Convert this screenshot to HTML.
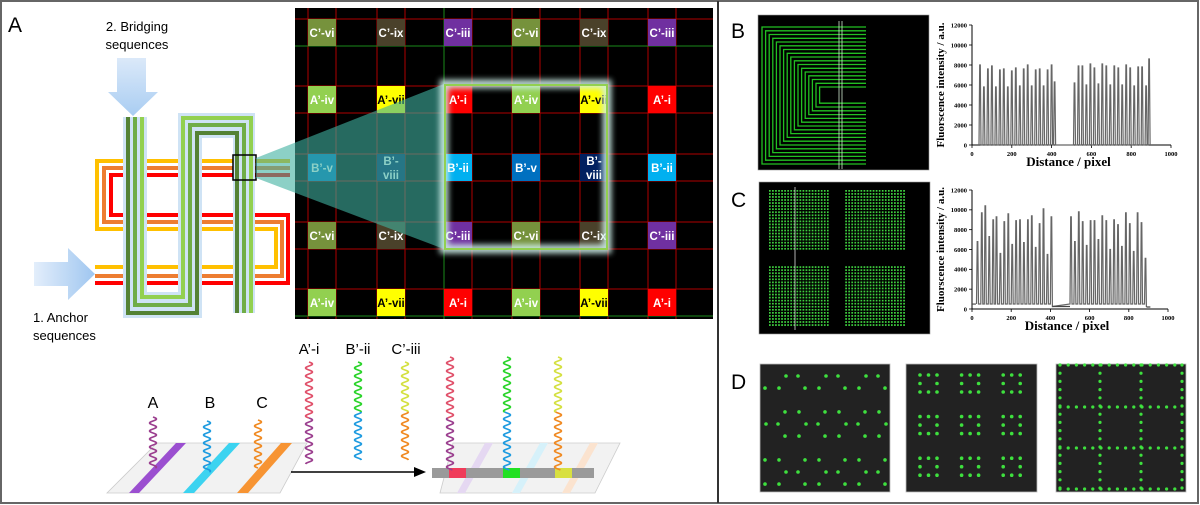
<!DOCTYPE html>
<html><head><meta charset="utf-8">
<style>
html,body{margin:0;padding:0;background:#fff;}
svg{display:block;}
.sans{font-family:"Liberation Sans",sans-serif;}
.serif{font-family:"Liberation Serif",serif;font-weight:bold;}
.cell{font-family:"Liberation Sans",sans-serif;font-weight:bold;font-size:11.5px;fill:#fff;}
</style></head>
<body>
<svg id="fig" width="1200" height="505" viewBox="0 0 1200 505" xmlns="http://www.w3.org/2000/svg">
<defs>
  <linearGradient id="arrowDown" x1="0" y1="0" x2="0" y2="1"><stop offset="0" stop-color="#dbe9f9"/><stop offset="1" stop-color="#a9cdf2"/></linearGradient>
  <linearGradient id="arrowRight" x1="0" y1="0" x2="1" y2="0"><stop offset="0" stop-color="#e3eefb"/><stop offset="1" stop-color="#9fc6f0"/></linearGradient>
  <filter id="blur4"><feGaussianBlur stdDeviation="3"/></filter>
  <pattern id="dotgrid" x="769" y="190" width="3.05" height="3.05" patternUnits="userSpaceOnUse"><rect x="0" y="0" width="1.7" height="1.7" fill="#3fd23f"/></pattern>
</defs>

<rect x="1" y="1" width="1197" height="502" fill="none" stroke="#666" stroke-width="2"/>
<line x1="718" y1="1" x2="718" y2="503" stroke="#333" stroke-width="2"/>

<g id="panelA">
  <text x="8" y="32" class="sans" font-size="21">A</text>
  <text x="137" y="31" class="sans" font-size="13" text-anchor="middle">2. Bridging</text>
  <text x="137" y="49" class="sans" font-size="13" text-anchor="middle">sequences</text>
  <polygon points="117,58 146,58 146,92 158,92 133,116 108,92 117,92" fill="url(#arrowDown)"/>
  <polygon points="34,262 68,262 68,248 95,274 68,300 68,286 34,286" fill="url(#arrowRight)"/>
  <text x="33" y="322" class="sans" font-size="13">1. Anchor</text>
  <text x="33" y="340" class="sans" font-size="13">sequences</text>

  <g fill="none" stroke-width="4">
    <path d="M290,161 H97 V229 H276 V267 H95" stroke="#ffc000"/>
    <path d="M290,168 H104 V222 H282 V276 H95" stroke="#ed7d31"/>
    <path d="M290,175 H111 V215 H288 V283 H95" stroke="#ff0000"/>
  </g>
  <g fill="none" stroke-width="4">
    <path d="M128,117 V313 H197 V133 H238 V313" stroke="#cfe3f5" stroke-width="10"/>
    <path d="M133,117 V305 H190 V125 H244 V313" stroke="#cfe3f5" stroke-width="10"/>
    <path d="M142,117 V297 H183 V118 H250 V313" stroke="#cfe3f5" stroke-width="10"/>
    <path d="M128,117 V313 H197 V133 H237 V313" stroke="#548235"/>
    <path d="M135,117 V305 H190 V125 H244 V313" stroke="#70ad47"/>
    <path d="M142,117 V297 H183 V118 H251 V313" stroke="#92d050"/>
  </g>
  <rect x="233" y="155" width="23" height="25" fill="none" stroke="#000" stroke-width="1.5"/>

  <rect x="295" y="8" width="418" height="311" fill="#000"/>
  <g id="gridLines"></g>
  <g id="gridCells"></g>
  <polygon points="256,158 256,178 444,249 444,84" fill="#40b0a0" opacity="0.6"/>
  <rect x="444" y="84" width="163" height="165" fill="none" stroke="#cdeee8" stroke-width="9" filter="url(#blur4)" opacity="0.9"/>
  <rect x="445" y="85" width="162" height="164" fill="none" stroke="#92d050" stroke-width="2"/>

  <g id="schematic">
    <polygon points="157,443 307,443 280,493 107,493" fill="#f2f2f2" stroke="#ccc" stroke-width="0.8"/>
    <polygon points="176,443 186,443 139,493 129,493" fill="#9b4fd0"/>
    <polygon points="229,443 240,443 194,493 183,493" fill="#3cd3f0"/>
    <polygon points="281,443 292,443 248,493 237,493" fill="#f79433"/>
    <text x="153" y="408" class="sans" font-size="16" text-anchor="middle">A</text>
    <text x="210" y="408" class="sans" font-size="16" text-anchor="middle">B</text>
    <text x="262" y="408" class="sans" font-size="16" text-anchor="middle">C</text>
    <text x="309" y="354" class="sans" font-size="15" text-anchor="middle">A’-i</text>
    <text x="358" y="354" class="sans" font-size="15" text-anchor="middle">B’-ii</text>
    <text x="406" y="354" class="sans" font-size="15" text-anchor="middle">C’-iii</text>
    <line x1="291" y1="472" x2="416" y2="472" stroke="#000" stroke-width="1.5"/>
    <polygon points="414,467 426,472 414,477" fill="#000"/>
    <polygon points="453,443 620,443 595,493 440,493" fill="#f2f2f2" stroke="#ccc" stroke-width="0.8"/>
    <polygon points="485,443 493,443 465,493 457,493" fill="#e5d8f2"/>
    <polygon points="540,443 548,443 520,493 512,493" fill="#d6f1fa"/>
    <polygon points="590,443 598,443 570,493 562,493" fill="#fbe3cf"/>
    <rect x="432" y="468" width="162" height="10" fill="#9a9a9a"/>
    <rect x="449" y="468" width="17" height="10" fill="#f03c5a"/>
    <rect x="503" y="468" width="17" height="10" fill="#22e022"/>
    <rect x="555" y="468" width="17" height="10" fill="#d8e040"/>
    <g id="waves"></g>
  </g>
</g>

<g>
  <text x="731" y="38" class="sans" font-size="21">B</text>
  <rect x="758" y="15" width="171" height="155" fill="#000" stroke="#999" stroke-width="0.6"/>
  <g id="nested" fill="none" stroke="#22c022" stroke-width="1.3"></g>
  <line x1="839" y1="21" x2="839" y2="169" stroke="#cfe8cf" stroke-width="0.8"/>
  <line x1="842" y1="21" x2="842" y2="169" stroke="#cfe8cf" stroke-width="0.8"/>
  <g id="chartB"></g>
</g>

<g>
  <text x="731" y="207" class="sans" font-size="21">C</text>
  <rect x="759" y="182" width="171" height="152" fill="#000" stroke="#999" stroke-width="0.6"/>
  <rect x="769" y="190" width="61" height="61" fill="url(#dotgrid)"/>
  <rect x="844" y="190" width="61" height="61" fill="url(#dotgrid)"/>
  <rect x="769" y="265" width="61" height="61" fill="url(#dotgrid)"/>
  <rect x="844" y="265" width="61" height="61" fill="url(#dotgrid)"/>
  <line x1="795" y1="187" x2="795" y2="330" stroke="#ddd" stroke-width="0.8"/>
  <g id="chartC"></g>
</g>

<g>
  <text x="731" y="389" class="sans" font-size="21">D</text>
  <rect x="760" y="364" width="130" height="128" fill="#222" stroke="#bbb" stroke-width="0.8"/>
  <rect x="906" y="364" width="131" height="128" fill="#222" stroke="#bbb" stroke-width="0.8"/>
  <rect x="1056" y="364" width="130" height="128" fill="#222" stroke="#bbb" stroke-width="0.8"/>
  <g id="dots" fill="#3ee03e"></g>
</g>
</svg>

<script>
const xTicks = [0, 200, 400, 600, 800, 1000];
const yTicks = [0, 2000, 4000, 6000, 8000, 10000, 12000];
const bPeakX = [40,60,80,100,120,140,160,180,200,220,240,260,280,300,320,340,360,380,400,415,515,535,555,575,595,615,635,655,675,695,715,735,755,775,795,815,835,855,875,890];
const bPeakY = [8000,5800,7600,7900,5800,7500,7600,5800,7400,7700,5900,7600,8000,5900,7500,7600,5900,7500,8000,6300,6200,7900,7900,6000,8100,7700,6100,8100,7900,6000,7900,7700,6000,8000,7700,5900,7800,7800,5900,8600];
const cPeakX = [28,50,68,88,108,125,145,165,185,205,225,245,265,285,305,325,345,365,385,405,505,525,545,565,585,605,625,645,665,685,705,725,745,765,785,805,825,845,865,885];
const cPeakY = [6800,9700,10400,7300,9000,9300,5600,8800,9600,6500,8900,9000,6700,9000,9400,6200,8600,10100,5500,9300,9300,6800,9800,8800,6400,8900,8900,7000,9400,8900,6000,9000,8500,6300,9700,8600,5800,9700,8700,5100];
const cBaseStart = [0, 410, 500, 890];
const cBaseLevel = [500, 250, 500, 200];

const NS = "http://www.w3.org/2000/svg";
function mk(tag, attrs, parent){const e=document.createElementNS(NS,tag);for(const k in attrs)e.setAttribute(k,attrs[k]);parent.appendChild(e);return e;}

function drawChart(gid, x0, x1, yTop, yBot, px, py, baseFn){
  const g=document.getElementById(gid);
  const X=v=>x0+v/1000*(x1-x0);
  const Y=v=>yBot-v/12000*(yBot-yTop);
  const ax=mk('path',{d:`M${x0},${yTop} V${yBot} H${x1}`,fill:'none',stroke:'#000','stroke-width':1},g);
  
  
  xTicks.forEach(t=>{
    const l=mk('line',{x1:X(t),x2:X(t),y1:yBot,y2:yBot+3,stroke:'#000','stroke-width':0.8},g);
    
    
    const tx=mk('text',{x:X(t),y:yBot+11,'text-anchor':'middle','font-size':6.5,class:'serif'},g);
    tx.textContent=t;
    
    
  });
  yTicks.forEach(t=>{
    const l=mk('line',{x1:x0-3,x2:x0,y1:Y(t),y2:Y(t),stroke:'#000','stroke-width':0.8},g);
    
    
    const tx=mk('text',{x:x0-5,y:Y(t)+2.3,'text-anchor':'end','font-size':6.5,class:'serif'},g);
    tx.textContent=t;
    
    
  });
  let segs=[];
  for(let i=0;i<px.length;i++){
    const b1=baseFn(px[i]-5), b2=baseFn(px[i]+5);
    segs.push(`${i===0?'M':'L'}${X(px[i]-5).toFixed(1)},${Y(b1).toFixed(1)} L${X(px[i]-1.5).toFixed(1)},${Y(py[i]).toFixed(1)} L${X(px[i]+1.5).toFixed(1)},${Y(py[i]).toFixed(1)} L${X(px[i]+5).toFixed(1)},${Y(b2).toFixed(1)}`);
  }
  const p=mk('path',{d:segs.join(' '),fill:'none',stroke:'#666','stroke-width':1.2},g);
  
  
  const yt=mk('text',{x:0,y:0,'font-size':11,class:'serif','text-anchor':'middle',transform:`translate(${x0-28},${(yTop+yBot)/2}) rotate(-90)`},g);
  yt.textContent='Fluorscence intensity / a.u.';
  
  
  const xt=mk('text',{x:(x0+x1)/2-3,y:yBot+21,'font-size':13,class:'serif','text-anchor':'middle'},g);
  xt.textContent='Distance / pixel';
  
  
}
drawChart('chartB',972,1171,25,145,bPeakX,bPeakY,()=>0);
function cBase(x){let lv=cBaseLevel[0];for(let i=0;i<cBaseStart.length;i++){if(x>=cBaseStart[i])lv=cBaseLevel[i];}return lv;}
drawChart('chartC',972,1168,190,309,cPeakX,cPeakY,cBase);
(function(){
  const g=document.getElementById('chartC');
  const X=v=>972+v/1000*196, Y=v=>309-v/12000*119;
  const p=mk('path',{d:`M${X(0)},${Y(500)} H${X(20)} M${X(410)},${Y(250)} H${X(500)} M${X(890)},${Y(200)} H${X(910)}`,fill:'none',stroke:'#444','stroke-width':1.2},g);
  
  
})();

const rowsY=[19,86,154,222,289];
const colsX=[308,377,444,512,580,648];
const cellLabels=[
 ["C’-vi","C’-ix","C’-iii","C’-vi","C’-ix","C’-iii"],
 ["A’-iv","A’-vii","A’-i","A’-iv","A’-vii","A’-i"],
 ["B’-v","B’-viii","B’-ii","B’-v","B’-viii","B’-ii"],
 ["C’-vi","C’-ix","C’-iii","C’-vi","C’-ix","C’-iii"],
 ["A’-iv","A’-vii","A’-i","A’-iv","A’-vii","A’-i"]];
const colorOf={"C’-vi":"#76923c","C’-ix":"#4a412a","C’-iii":"#7030a0","A’-iv":"#92d050","A’-vii":"#ffff00","A’-i":"#ff0000","B’-v":"#0070c0","B’-viii":"#002060","B’-ii":"#00b0f0"};
(function(){
  const gl=document.getElementById('gridLines');
  const vx=[];colsX.forEach(x=>{vx.push(x);vx.push(x+28);});
  vx.forEach(x=>{const l=mk('line',{x1:x,x2:x,y1:8,y2:319,stroke:(x===404||x===444)?'#1a8a1a':'#b00000','stroke-width':1},gl);
    
    });
  const hy=[];rowsY.forEach(y=>{hy.push(y);hy.push(y+27);});
  hy.forEach(y=>{const l=mk('line',{x1:295,x2:713,y1:y,y2:y,stroke:(y===46||y===316)?'#1a8a1a':'#b00000','stroke-width':1},gl);
    
    });
  const gc=document.getElementById('gridCells');
  rowsY.forEach((y,r)=>colsX.forEach((x,c)=>{
    const lab=cellLabels[r][c];
    const rc=mk('rect',{x:x,y:y,width:28,height:27,fill:colorOf[lab]},gc);
    
    
    const fillT = lab==="A’-vii"?'#000':'#fff';
    if(lab==="B’-viii"){
      const t1=mk('text',{x:x+14,y:y+11,'text-anchor':'middle',class:'cell'},gc);t1.textContent="B’-";
      
      
      const t2=mk('text',{x:x+14,y:y+25,'text-anchor':'middle',class:'cell'},gc);t2.textContent="viii";
      
      
    } else {
      const t=mk('text',{x:x+14,y:y+18,'text-anchor':'middle',class:'cell',style:'fill:'+fillT},gc);t.textContent=lab;
      
      
    }
  }));
})();

(function(){
  const g=document.getElementById('waves');
  function wave(x,y0,y1,colorTop,colorBot,split){
    const amp=3.4, per=8;
    const mkPath=(a,b,col)=>{let d='';for(let y=a;y<=b;y+=0.5){const xx=x+amp*Math.sin((y-y0)/per*2*Math.PI);d+=(d?'L':'M')+xx.toFixed(2)+','+y.toFixed(2)+' ';}
      const p=mk('path',{d:d,fill:'none',stroke:col,'stroke-width':1.7},g);
      
      };
    if(split){mkPath(y0,split,colorTop);mkPath(split,y1,colorBot);} else mkPath(y0,y1,colorTop);
  }
  wave(153,417,468,'#9b3f8f');
  wave(207,421,472,'#1e9be0');
  wave(258,420,468,'#f08a22');
  wave(309,362,464,'#e0506a','#9b3f8f',418);
  wave(358,362,460,'#2ad42a','#1e9be0',412);
  wave(405,362,460,'#d4e040','#f08a22',412);
  wave(450,357,470,'#e0506a','#9b3f8f',418);
  wave(507,357,470,'#2ad42a','#1e9be0',412);
  wave(558,357,470,'#d4e040','#f08a22',412);
})();

(function(){
  const g=document.getElementById('nested');
  for(let i=0;i<17;i++){
    const l=762+i*3.6, t=27+i*3.75, b=164-i*3.8;
    const p=mk('path',{d:`M866,${t.toFixed(1)} H${l.toFixed(1)} V${b.toFixed(1)} H866`},g);
    
    
  }
})();

(function(){
  const g=document.getElementById('dots');
  function dot(x,y,r,clipX0,clipX1,clipY0,clipY1){
    if(x<clipX0||x>clipX1||y<clipY0||y>clipY1)return;
    const c=mk('circle',{cx:x.toFixed(1),cy:y.toFixed(1),r:r},g);
    
    
  }
  for(let j=-1;j<4;j++)for(let i=-1;i<4;i++){
    const cx=760+i*40+(j%2?20:0)+12, cy=364+j*48+12;
    for(let k=0;k<6;k++){const a=k*Math.PI/3;dot(cx+14*Math.cos(a),cy+14*Math.sin(a),1.8,761,889,365,491);}
  }
  for(let gy=0;gy<3;gy++)for(let gx=0;gx<3;gx++){
    for(let a=0;a<3;a++)for(let b=0;b<3;b++){ if(a===1&&b===1)continue;
      dot(920+gx*41.6+a*8.5,375+gy*41.6+b*8.5,1.8,906,1037,364,492);}
  }
  const L=[1060,1100,1141,1182], T=[365,407,448,489];
  L.forEach(x=>{for(let y=365;y<=490;y+=8.2)dot(x,y,1.6,1056,1186,364,492);});
  T.forEach(y=>{for(let x=1060;x<=1183;x+=8.2)dot(x,y,1.6,1056,1186,364,492);});
})();
</script>
</body></html>
